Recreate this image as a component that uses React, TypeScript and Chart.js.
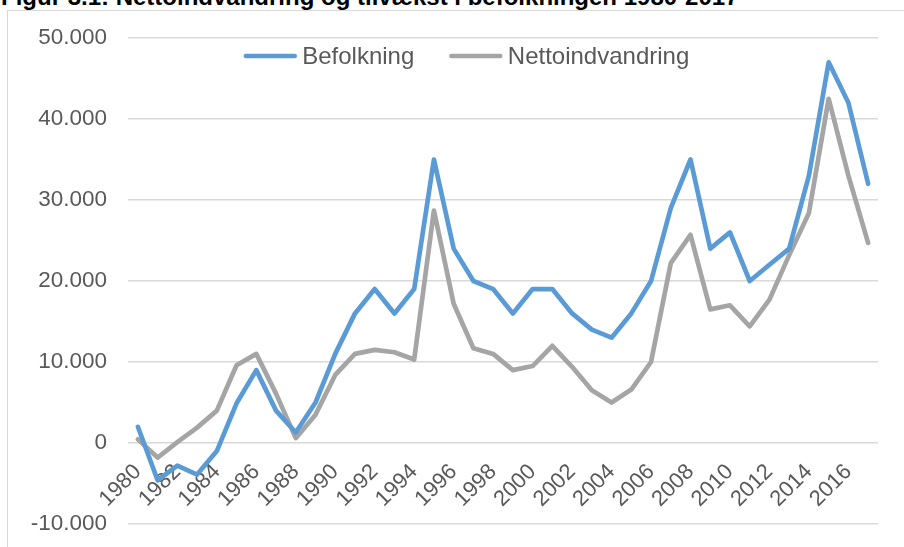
import { useEffect, useRef } from "react";
import { Chart, registerables } from "chart.js";

Chart.register(...registerables);

const FONT = "'Liberation Sans', Arial, sans-serif";
const TEXT_COLOR = "#595959";
const GRID_COLOR = "#d9d9d9";

const title = "Figur 3.1: Nettoindvandring og tilvækst i befolkningen 1980-2017";

const years = [
  "1980", "1981", "1982", "1983", "1984", "1985", "1986", "1987", "1988", "1989",
  "1990", "1991", "1992", "1993", "1994", "1995", "1996", "1997", "1998", "1999",
  "2000", "2001", "2002", "2003", "2004", "2005", "2006", "2007", "2008", "2009",
  "2010", "2011", "2012", "2013", "2014", "2015", "2016", "2017",
];

const befolkning = [
  2000, -4600, -2800, -3900, -1000, 4900, 9000, 4000, 1300, 5000,
  11000, 16000, 19000, 16000, 19000, 35000, 24000, 20000, 19000, 16000,
  19000, 19000, 16000, 14000, 13000, 16000, 20000, 29000, 35000, 24000,
  26000, 20000, 22000, 24000, 33000, 47000, 42000, 32000,
];

const nettoindvandring = [
  450, -1800, 100, 1900, 4000, 9600, 11000, 6100, 600, 3500,
  8400, 11000, 11500, 11200, 10300, 28700, 17200, 11700, 11000, 9000,
  9500, 12000, 9400, 6500, 5000, 6600, 10000, 22200, 25700, 16500,
  17000, 14400, 17700, 23200, 28400, 42500, 33000, 24700,
];

const seriesNames = ["Befolkning", "Nettoindvandring"];
const seriesColors = ["#5B9BD5", "#A5A5A5"];

const yMin = -10000;
const yMax = 50000;
const yStep = 10000;

function formatThousands(v: number): string {
  const neg = v < 0;
  const s = Math.abs(Math.round(v)).toString();
  const withDots = s.replace(/\B(?=(\d{3})+(?!\d))/g, ".");
  return (neg ? "-" : "") + withDots;
}

const insideLegend = {
  id: "insideLegend",
  afterDraw(chart: any) {
    const ctx: CanvasRenderingContext2D = chart.ctx;
    ctx.save();
    ctx.font = `24px ${FONT}`;
    const lineLen = 49;
    const lineGap = 7.5;
    const itemGap = 37;
    const items = chart.data.datasets.map((ds: any) => ({
      label: ds.label as string,
      color: ds.borderColor as string,
      w: ctx.measureText(ds.label).width,
    }));
    const total =
      items.reduce((s: number, it: any) => s + lineLen + lineGap + it.w, 0) +
      itemGap * (items.length - 1);
    const centerX = 467.5;
    const lineY = 56;
    let x = centerX - total / 2;
    for (const it of items) {
      ctx.beginPath();
      ctx.strokeStyle = it.color;
      ctx.lineWidth = 4.5;
      ctx.lineCap = "round";
      ctx.moveTo(x, lineY);
      ctx.lineTo(x + lineLen, lineY);
      ctx.stroke();
      x += lineLen + lineGap;
      ctx.fillStyle = TEXT_COLOR;
      ctx.textBaseline = "alphabetic";
      ctx.textAlign = "left";
      ctx.fillText(it.label, x, 63.5);
      x += it.w + itemGap;
    }
    ctx.restore();
  },
};

export default function App() {
  const canvasRef = useRef<HTMLCanvasElement | null>(null);

  useEffect(() => {
    const canvas = canvasRef.current;
    if (!canvas) return;
    const chart = new Chart(canvas, {
      type: "line",
      data: {
        labels: years,
        datasets: [
          {
            label: seriesNames[0],
            data: befolkning,
            borderColor: seriesColors[0],
            backgroundColor: seriesColors[0],
            borderWidth: 4.7,
            pointRadius: 0,
            pointHoverRadius: 0,
            tension: 0,
            borderJoinStyle: "round",
            borderCapStyle: "round",
            fill: false,
          },
          {
            label: seriesNames[1],
            data: nettoindvandring,
            borderColor: seriesColors[1],
            backgroundColor: seriesColors[1],
            borderWidth: 4.7,
            pointRadius: 0,
            pointHoverRadius: 0,
            tension: 0,
            borderJoinStyle: "round",
            borderCapStyle: "round",
            fill: false,
          },
        ],
      },
      options: {
        animation: false,
        responsive: false,
        devicePixelRatio: 1,
        layout: { padding: { left: 0, top: 38, right: 26, bottom: 23 } },
        plugins: {
          legend: { display: false },
          tooltip: { enabled: false },
          title: { display: false },
        },
        scales: {
          x: {
            type: "category",
            offset: true,
            position: { y: 0 } as any,
            grid: { display: false, drawTicks: false },
            border: { display: false },
            afterFit: (scale: any) => {
              scale.height = 0;
              scale.paddingBottom = 0;
              scale.paddingTop = 0;
            },
            ticks: {
              autoSkip: false,
              maxRotation: 45,
              minRotation: 45,
              padding: 16,
              color: TEXT_COLOR,
              font: { family: FONT, size: 22 },
              callback: function (this: any, value: any, index: number) {
                return index % 2 === 0 ? this.getLabelForValue(value) : "";
              },
            },
          },
          y: {
            min: yMin,
            max: yMax,
            grid: { color: GRID_COLOR, lineWidth: 1.5, drawTicks: false },
            border: { display: false },
            afterFit: (scale: any) => {
              scale.width = 128;
              scale.paddingTop = 0;
              scale.paddingBottom = 0;
            },
            ticks: {
              stepSize: yStep,
              padding: 21,
              color: TEXT_COLOR,
              font: { family: FONT, size: 22.5 },
              callback: (v: any) => formatThousands(Number(v)),
            },
          },
        },
      },
      plugins: [insideLegend],
    });
    return () => chart.destroy();
  }, []);

  return (
    <div
      style={{
        position: "fixed",
        left: 0,
        top: 0,
        width: 904,
        height: 547,
        overflow: "hidden",
        background: "#ffffff",
      }}
    >
      <div
        style={{
          position: "absolute",
          left: 7,
          top: 10,
          width: 1000,
          height: 1000,
          borderLeft: `1px solid ${GRID_COLOR}`,
          borderTop: `1px solid ${GRID_COLOR}`,
        }}
      />
      <div
        style={{
          position: "absolute",
          left: 1,
          top: -15,
          fontFamily: FONT,
          fontWeight: "bold",
          fontSize: 24,
          lineHeight: "24px",
          color: "#000000",
          whiteSpace: "nowrap",
        }}
      >
        {title}
      </div>
      <canvas
        ref={canvasRef}
        width={904}
        height={547}
        style={{ position: "absolute", left: 0, top: 0, width: 904, height: 547 }}
      />
    </div>
  );
}
